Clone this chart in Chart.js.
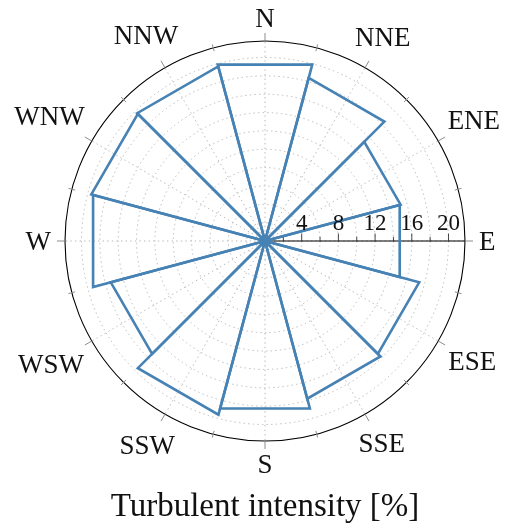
<!DOCTYPE html>
<html>
<head>
<meta charset="utf-8">
<script src="https://cdn.jsdelivr.net/npm/chart.js@4/dist/chart.umd.min.js"></script>
<style>
  html, body { margin: 0; padding: 0; background: #fff; }
  #wrap { width: 505px; height: 527px; }
  canvas { display: block; }
</style>
</head>
<body>
<div id="wrap"><canvas id="rose" width="505" height="527"></canvas></div>
<script>
// Wind sectors, clockwise from north, 30 degrees each
const directions = ['N', 'NNE', 'ENE', 'E', 'ESE', 'SSE', 'S', 'SSW', 'WSW', 'W', 'WNW', 'NNW'];
// Turbulent intensity per sector [%]
const intensity = [19.9, 18.4, 15.3, 15.2, 17.4, 17.8, 18.9, 19.6, 17.4, 19.4, 19.6, 19.7];
// Labelled radial ticks along the east axis
const radialTicks = [4, 8, 12, 16, 20];
const radialMinorStep = 2;
const radialMax = 21.8;
const axisTitle = 'Turbulent intensity [%]';

// The radar scale places one spoke on every sector edge (15, 45, 75 ... degrees);
// each sector is a closed wedge: centre -> edge -> edge -> centre.
const sectorEdges = directions.map((d, i) => d + '/' + directions[(i + 1) % directions.length]);
const n = directions.length;

const datasets = directions.map((dir, k) => ({
  label: dir,
  data: sectorEdges.map((_, j) => (j === k || j === (k + n - 1) % n) ? intensity[k] : 0),
  borderColor: '#4682b4',
  borderWidth: 2.6,
  fill: false,
  pointRadius: 0,
  pointHoverRadius: 0,
  pointHitRadius: 0
}));

const SERIF = '"Liberation Serif", "Times New Roman", serif';
const stepDeg = 360 / n;

function polar(scale, value, deg) {
  const r = scale.getDistanceFromCenterForValue(value);
  const a = deg * Math.PI / 180;
  return { x: scale.xCenter + r * Math.sin(a), y: scale.yCenter - r * Math.cos(a) };
}

const polarFrame = {
  id: 'polarFrame',
  beforeDatasetsDraw(chart) {
    const s = chart.scales.r;
    const ctx = chart.ctx;
    const cx = s.xCenter, cy = s.yCenter;
    const R = s.getDistanceFromCenterForValue(radialMax);
    ctx.save();

    // dotted grid: circles and spokes
    ctx.strokeStyle = '#b8b8b8';
    ctx.lineWidth = 1;
    ctx.setLineDash([1.4, 3.2]);
    for (let v = radialMinorStep; v < radialMax; v += radialMinorStep) {
      ctx.beginPath();
      ctx.arc(cx, cy, s.getDistanceFromCenterForValue(v), 0, Math.PI * 2);
      ctx.stroke();
    }
    for (let i = 0; i < n; i++) {
      const p = polar(s, radialMax, i * stepDeg);
      ctx.beginPath();
      ctx.moveTo(cx, cy);
      ctx.lineTo(p.x, p.y);
      ctx.stroke();
    }
    ctx.setLineDash([]);

    // outer ring
    ctx.strokeStyle = '#000';
    ctx.lineWidth = 1.1;
    ctx.beginPath();
    ctx.arc(cx, cy, R, 0, Math.PI * 2);
    ctx.stroke();

    // ticks on the ring: labelled directions outward, sector edges across
    ctx.strokeStyle = '#8c8c8c';
    ctx.lineWidth = 1;
    for (let i = 0; i < 2 * n; i++) {
      const deg = i * stepDeg / 2;
      const a = deg * Math.PI / 180;
      const r0 = i % 2 === 0 ? R : R - 3.5;
      const r1 = i % 2 === 0 ? R + 8 : R + 3.5;
      ctx.beginPath();
      ctx.moveTo(cx + r0 * Math.sin(a), cy - r0 * Math.cos(a));
      ctx.lineTo(cx + r1 * Math.sin(a), cy - r1 * Math.cos(a));
      ctx.stroke();
    }

    // radial axis along east
    ctx.strokeStyle = '#000';
    ctx.lineWidth = 1.1;
    ctx.beginPath();
    ctx.moveTo(cx, cy);
    ctx.lineTo(cx + R, cy);
    ctx.stroke();
    ctx.strokeStyle = '#333';
    ctx.lineWidth = 0.9;
    for (let v = radialMinorStep; v < radialMax; v += radialMinorStep) {
      const x = cx + s.getDistanceFromCenterForValue(v);
      const major = radialTicks.includes(v);
      ctx.beginPath();
      ctx.moveTo(x, cy + 0.5);
      ctx.lineTo(x, cy - (major ? 7.5 : 4.2));
      ctx.stroke();
    }
    ctx.restore();
  },
  afterDatasetsDraw(chart) {
    const s = chart.scales.r;
    const ctx = chart.ctx;
    const cx = s.xCenter, cy = s.yCenter;
    const R = s.getDistanceFromCenterForValue(radialMax);
    ctx.save();
    ctx.fillStyle = '#111';

    // radial tick labels
    ctx.font = '23px ' + SERIF;
    ctx.textAlign = 'center';
    ctx.textBaseline = 'alphabetic';
    radialTicks.forEach(v => {
      ctx.fillText(String(v), cx + s.getDistanceFromCenterForValue(v), cy - 11);
    });

    // direction labels outside the ring
    const size = 27;
    const capH = 0.66 * size;
    ctx.font = size + 'px ' + SERIF;
    directions.forEach((dir, i) => {
      const deg = i * stepDeg;
      const a = deg * Math.PI / 180;
      const w = ctx.measureText(dir).width;
      const d = R + 14 + Math.abs(Math.sin(a)) * w / 2 + Math.abs(Math.cos(a)) * capH / 2;
      const x = cx + d * Math.sin(a);
      const y = cy - d * Math.cos(a);
      ctx.fillText(dir, x, y + capH / 2);
    });

    // axis title
    ctx.font = '33px ' + SERIF;
    ctx.fillText(axisTitle, cx, 516);
    ctx.restore();
  }
};

new Chart(document.getElementById('rose'), {
  type: 'radar',
  data: { labels: sectorEdges, datasets },
  options: {
    responsive: false,
    animation: false,
    devicePixelRatio: 1,
    layout: { padding: { left: 65, right: 40, top: 41, bottom: 86 } },
    elements: { line: { tension: 0, borderJoinStyle: 'miter' } },
    plugins: {
      legend: { display: false },
      tooltip: { enabled: false },
      title: { display: false }
    },
    scales: {
      r: {
        min: 0,
        max: radialMax,
        startAngle: stepDeg / 2,
        grid: { display: false },
        angleLines: { display: false },
        pointLabels: { display: false },
        ticks: { display: false }
      }
    }
  },
  plugins: [polarFrame]
});
</script>
</body>
</html>
